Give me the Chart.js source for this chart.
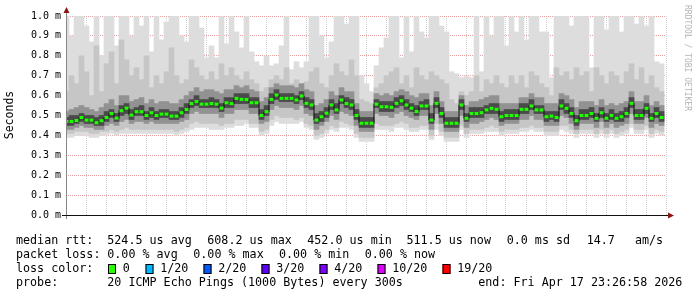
<!DOCTYPE html>
<html>
<head>
<meta charset="utf-8">
<script src="https://cdn.jsdelivr.net/npm/chart.js@4.4.1/dist/chart.umd.min.js"></script>
<style>
body { margin: 0; background: #fff; }
</style>
</head>
<body>
<canvas id="smoke" width="697" height="297"></canvas>
<script>
// time in hours from Thu 00:00, one column every 15 min
const startHour = 17.5;
const stepHour = 0.25;

// median rtt (ms)
const median = [
  0.47,0.47,0.475,0.49,0.477,0.477,0.464,0.474,0.49,0.51,
  0.487,0.524,0.537,0.502,0.519,0.519,0.50,0.514,0.50,0.507,
  0.507,0.497,0.497,0.514,0.53,0.56,0.57,0.557,0.557,0.56,
  0.557,0.537,0.564,0.56,0.586,0.581,0.58,0.564,0.564,0.50,
  0.519,0.581,0.603,0.586,0.586,0.586,0.578,0.598,0.561,0.553,
  0.477,0.494,0.512,0.553,0.528,0.578,0.56,0.553,0.50,0.461,
  0.461,0.461,0.557,0.544,0.544,0.541,0.561,0.574,0.553,0.537,
  0.52,0.548,0.548,0.477,0.561,0.51,0.461,0.461,0.461,0.553,
  0.486,0.51,0.51,0.514,0.528,0.536,0.531,0.494,0.50,0.50,
  0.50,0.531,0.531,0.548,0.528,0.528,0.494,0.497,0.49,0.548,
  0.536,0.51,0.474,0.50,0.50,0.51,0.486,0.514,0.486,0.50,
  0.486,0.494,0.51,0.561,0.50,0.50,0.536,0.486,0.51,0.49
];

// smoke: slowest ping
const smokeMax = [
  1.05,0.90,1.05,1.05,0.95,0.87,1.05,0.80,1.05,1.05,
  0.85,1.05,1.05,0.90,1.05,0.95,1.05,0.82,1.05,0.88,
  0.97,1.05,1.05,0.90,0.87,1.05,1.05,0.94,0.79,0.85,
  0.79,1.05,0.86,1.05,0.92,0.84,1.05,0.82,0.77,0.75,
  0.80,0.75,0.76,0.85,1.05,0.73,0.77,0.74,0.77,1.05,
  1.05,0.90,0.79,0.87,1.05,1.05,0.96,1.05,1.05,0.70,
  0.66,0.62,0.75,0.84,0.89,1.05,1.05,0.79,1.05,0.82,
  1.05,0.92,0.89,1.05,1.05,0.95,0.92,0.72,0.71,0.69,
  0.70,0.69,1.05,0.72,1.05,0.90,1.05,1.05,0.85,1.05,
  0.92,1.05,0.88,1.05,1.05,0.92,0.92,0.69,1.05,1.05,
  1.05,0.95,1.05,1.05,1.05,0.74,1.05,1.05,0.93,1.05,
  1.05,0.92,1.05,1.05,0.96,1.05,0.95,1.05,0.77,0.76
];

// smoke: upper pings
const smokeHigh = [
  0.62,0.70,0.66,0.80,0.72,0.60,0.85,0.62,0.76,0.82,
  0.66,0.88,0.78,0.70,0.74,0.68,0.80,0.64,0.70,0.66,
  0.72,0.84,0.70,0.66,0.68,0.78,0.74,0.70,0.68,0.72,
  0.68,0.76,0.70,0.74,0.70,0.68,0.72,0.68,0.66,0.62,
  0.64,0.68,0.70,0.68,0.74,0.66,0.68,0.66,0.67,0.72,
  0.74,0.66,0.64,0.70,0.76,0.72,0.70,0.78,0.70,0.58,
  0.57,0.56,0.64,0.66,0.70,0.72,0.74,0.66,0.70,0.64,
  0.74,0.70,0.68,0.72,0.70,0.68,0.66,0.58,0.56,0.62,
  0.60,0.62,0.70,0.62,0.68,0.66,0.70,0.66,0.64,0.70,
  0.66,0.70,0.64,0.72,0.70,0.66,0.64,0.60,0.74,0.70,
  0.72,0.68,0.74,0.70,0.72,0.62,0.74,0.70,0.66,0.72,
  0.70,0.66,0.72,0.76,0.68,0.74,0.66,0.70,0.64,0.62
];

// smoke: pings above the median
const smokeMidHi = [
  0.52,0.53,0.54,0.55,0.54,0.53,0.52,0.54,0.56,0.58,
  0.55,0.60,0.60,0.57,0.58,0.59,0.56,0.58,0.56,0.57,
  0.57,0.56,0.56,0.58,0.60,0.62,0.64,0.62,0.63,0.63,
  0.62,0.61,0.63,0.63,0.65,0.64,0.65,0.63,0.62,0.57,
  0.59,0.64,0.66,0.65,0.65,0.65,0.64,0.66,0.63,0.62,
  0.55,0.56,0.58,0.62,0.60,0.64,0.62,0.62,0.56,0.52,
  0.52,0.52,0.61,0.60,0.61,0.60,0.62,0.63,0.62,0.60,
  0.59,0.61,0.61,0.55,0.62,0.57,0.52,0.52,0.52,0.60,
  0.55,0.57,0.57,0.58,0.59,0.60,0.60,0.56,0.56,0.56,
  0.56,0.59,0.59,0.61,0.59,0.59,0.56,0.56,0.56,0.61,
  0.60,0.58,0.54,0.57,0.57,0.57,0.55,0.58,0.55,0.56,
  0.55,0.56,0.57,0.62,0.57,0.57,0.60,0.55,0.57,0.55
];

// smoke: pings closest above the median
const smokeCoreHi = [
  0.49,0.50,0.50,0.51,0.50,0.50,0.49,0.50,0.52,0.53,
  0.51,0.55,0.56,0.53,0.54,0.55,0.52,0.54,0.52,0.53,
  0.53,0.52,0.52,0.54,0.56,0.58,0.60,0.58,0.58,0.59,
  0.58,0.56,0.59,0.59,0.61,0.61,0.61,0.59,0.59,0.53,
  0.55,0.61,0.63,0.61,0.61,0.61,0.60,0.62,0.59,0.58,
  0.51,0.52,0.54,0.58,0.56,0.60,0.59,0.58,0.53,0.49,
  0.49,0.49,0.58,0.57,0.57,0.57,0.59,0.60,0.58,0.56,
  0.55,0.57,0.58,0.51,0.59,0.54,0.49,0.49,0.49,0.58,
  0.51,0.54,0.54,0.54,0.55,0.56,0.56,0.52,0.53,0.53,
  0.53,0.56,0.56,0.58,0.55,0.55,0.52,0.52,0.52,0.58,
  0.56,0.54,0.50,0.53,0.53,0.54,0.51,0.54,0.51,0.53,
  0.51,0.52,0.54,0.59,0.53,0.53,0.56,0.51,0.54,0.52
];

// smoke: pings closest below the median
const smokeCoreLo = [
  0.45,0.45,0.46,0.47,0.46,0.46,0.45,0.45,0.47,0.49,
  0.47,0.50,0.51,0.48,0.50,0.50,0.48,0.49,0.48,0.49,
  0.49,0.48,0.48,0.49,0.51,0.54,0.55,0.54,0.54,0.54,
  0.54,0.52,0.54,0.54,0.56,0.56,0.56,0.54,0.54,0.48,
  0.50,0.56,0.58,0.57,0.57,0.57,0.56,0.58,0.54,0.53,
  0.46,0.47,0.49,0.53,0.51,0.56,0.54,0.53,0.48,0.44,
  0.44,0.44,0.54,0.52,0.52,0.52,0.54,0.55,0.53,0.52,
  0.50,0.53,0.53,0.46,0.54,0.49,0.44,0.44,0.44,0.53,
  0.47,0.49,0.49,0.49,0.51,0.51,0.51,0.47,0.48,0.48,
  0.48,0.51,0.51,0.53,0.51,0.51,0.47,0.48,0.47,0.53,
  0.51,0.49,0.45,0.48,0.48,0.49,0.47,0.49,0.47,0.48,
  0.47,0.47,0.49,0.54,0.48,0.48,0.51,0.47,0.49,0.47
];

// smoke: pings below the median
const smokeMidLo = [
  0.43,0.43,0.44,0.45,0.44,0.44,0.43,0.43,0.45,0.46,
  0.45,0.47,0.48,0.46,0.47,0.47,0.46,0.47,0.46,0.46,
  0.46,0.46,0.46,0.47,0.48,0.51,0.52,0.51,0.51,0.51,
  0.51,0.49,0.51,0.51,0.53,0.53,0.53,0.51,0.51,0.46,
  0.47,0.53,0.55,0.54,0.54,0.54,0.53,0.55,0.51,0.50,
  0.43,0.45,0.47,0.50,0.48,0.52,0.51,0.50,0.45,0.42,
  0.42,0.42,0.51,0.50,0.50,0.49,0.51,0.52,0.50,0.49,
  0.48,0.50,0.50,0.43,0.51,0.46,0.42,0.42,0.42,0.50,
  0.44,0.46,0.46,0.47,0.48,0.49,0.48,0.45,0.46,0.46,
  0.46,0.48,0.48,0.50,0.48,0.48,0.45,0.45,0.45,0.50,
  0.49,0.46,0.43,0.46,0.46,0.46,0.44,0.47,0.44,0.46,
  0.44,0.45,0.46,0.51,0.46,0.46,0.49,0.44,0.46,0.45
];

// smoke: lower pings
const smokeLow = [
  0.41,0.41,0.42,0.42,0.42,0.41,0.41,0.42,0.42,0.43,
  0.42,0.43,0.44,0.43,0.43,0.43,0.43,0.43,0.43,0.43,
  0.43,0.43,0.42,0.43,0.44,0.46,0.47,0.46,0.46,0.46,
  0.46,0.45,0.46,0.46,0.48,0.48,0.48,0.46,0.46,0.42,
  0.43,0.48,0.50,0.49,0.49,0.49,0.48,0.49,0.46,0.45,
  0.40,0.41,0.43,0.45,0.44,0.47,0.46,0.45,0.41,0.39,
  0.39,0.39,0.46,0.45,0.45,0.45,0.46,0.47,0.46,0.44,
  0.44,0.45,0.45,0.40,0.46,0.42,0.39,0.39,0.39,0.45,
  0.41,0.43,0.43,0.43,0.44,0.45,0.44,0.42,0.43,0.43,
  0.43,0.44,0.44,0.45,0.44,0.44,0.42,0.42,0.42,0.45,
  0.45,0.43,0.41,0.43,0.43,0.43,0.41,0.43,0.41,0.43,
  0.41,0.42,0.43,0.46,0.43,0.43,0.45,0.41,0.43,0.42
];

// smoke: fastest ping
const smokeMin = [
  0.39,0.39,0.40,0.40,0.40,0.39,0.39,0.40,0.40,0.41,
  0.40,0.41,0.41,0.41,0.41,0.41,0.41,0.41,0.41,0.41,
  0.41,0.41,0.40,0.41,0.42,0.43,0.44,0.44,0.44,0.43,
  0.43,0.43,0.44,0.44,0.45,0.45,0.46,0.44,0.44,0.40,
  0.41,0.45,0.47,0.46,0.46,0.46,0.46,0.47,0.44,0.43,
  0.38,0.39,0.41,0.43,0.42,0.44,0.44,0.43,0.39,0.37,
  0.37,0.37,0.43,0.43,0.43,0.42,0.44,0.44,0.43,0.42,
  0.42,0.43,0.43,0.38,0.43,0.40,0.37,0.37,0.37,0.43,
  0.39,0.41,0.41,0.41,0.42,0.42,0.42,0.40,0.41,0.41,
  0.41,0.42,0.42,0.43,0.42,0.42,0.40,0.40,0.40,0.43,
  0.42,0.41,0.39,0.41,0.41,0.41,0.39,0.41,0.39,0.41,
  0.39,0.40,0.41,0.44,0.41,0.41,0.43,0.39,0.41,0.40
];

// axis labels
const tickHours = [18, 24, 30, 36, 42];
const tickLabels = ['Thu 18:00', 'Fri 00:00', 'Fri 06:00', 'Fri 12:00', 'Fri 18:00'];

// legend
const lossLevels = ['0', '1/20', '2/20', '3/20', '4/20', '10/20', '19/20'];
const lossColors = ['#26ff00', '#00b8ff', '#0059ff', '#5e00ff', '#7e00ff', '#dd00ff', '#ff0000'];
const rttLine = ['median rtt:', '524.5 us avg', '608.2 us max', '452.0 us min', '511.5 us now', '0.0 ms sd', '14.7', 'am/s'];
const lossLine = ['packet loss:', '0.00 % avg', '0.00 % max', '0.00 % min', '0.00 % now'];
const probeLine = ['probe:', '20 ICMP Echo Pings (1000 Bytes) every 300s', 'end: Fri Apr 17 23:26:58 2026'];

const hours = median.map((v, i) => startHour + i * stepHour);

function band(lo, hi) {
  return hours.map((h, i) => ({ x: h, y: [lo[i], hi[i]] }));
}
function smokeSet(lo, hi, color, order) {
  return {
    type: 'bar',
    data: band(lo, hi),
    backgroundColor: color,
    borderWidth: 0,
    grouped: false,
    barPercentage: 1,
    categoryPercentage: 1,
    clip: 0,
    order: order
  };
}

const MONO = '"DejaVu Sans Mono", monospace';

// text, arrows and legend drawn around the plot
const decor = {
  id: 'decor',
  afterDraw(chart) {
    const c = chart.ctx;
    const a = chart.chartArea;
    c.save();

    // axes
    c.lineWidth = 1;
    c.strokeStyle = '#888';
    c.beginPath();
    c.moveTo(a.left + 0.5, a.bottom + 4);
    c.lineTo(a.left + 0.5, a.top - 4);
    c.stroke();
    c.strokeStyle = '#111';
    c.beginPath();
    c.moveTo(a.left - 4, a.bottom + 0.5);
    c.lineTo(a.right + 3, a.bottom + 0.5);
    c.stroke();

    c.fillStyle = '#8b1414';
    c.beginPath();
    c.moveTo(a.right + 2, a.bottom - 2.5);
    c.lineTo(a.right + 8, a.bottom + 0.5);
    c.lineTo(a.right + 2, a.bottom + 3.5);
    c.fill();
    c.beginPath();
    c.moveTo(a.left - 2.5, a.top - 3);
    c.lineTo(a.left + 0.5, a.top - 9);
    c.lineTo(a.left + 3.5, a.top - 3);
    c.fill();

    // vertical titles
    c.fillStyle = '#000';
    c.font = '11.5px ' + MONO;
    c.textAlign = 'center';
    c.textBaseline = 'middle';
    c.save();
    c.translate(10, 115);
    c.rotate(-Math.PI / 2);
    c.fillText('Seconds', 0, 0);
    c.restore();

    c.fillStyle = '#b4b4b4';
    c.font = '8px ' + MONO;
    c.textAlign = 'left';
    c.save();
    c.translate(687, 5);
    c.rotate(Math.PI / 2);
    c.fillText('RRDTOOL / TOBI OETIKER', 0, 0);
    c.restore();

    // legend lines
    c.fillStyle = '#000';
    c.font = '11.7px ' + MONO;
    c.textAlign = 'left';
    const rttX = [16, 107.3, 207.3, 307.3, 406.5, 506.7, 586.7, 635];
    rttLine.forEach((t, i) => c.fillText(t, rttX[i], 241));
    const lossX = [16, 107.3, 193.3, 279, 364.7];
    lossLine.forEach((t, i) => c.fillText(t, lossX[i], 255));
    c.fillText('loss color:', 16, 269);
    const boxX = [108, 145.5, 203.5, 261.5, 319.5, 377.5, 442.5];
    lossLevels.forEach((t, i) => {
      c.fillStyle = lossColors[i];
      c.fillRect(boxX[i], 264, 8, 10);
      c.strokeStyle = '#000';
      c.strokeRect(boxX[i] + 0.5, 264.5, 7, 9);
      c.fillStyle = '#000';
      c.fillText(t, boxX[i] + 14.7, 269);
    });
    const probeX = [16, 107.3, 478.3];
    probeLine.forEach((t, i) => c.fillText(t, probeX[i], 283));

    c.restore();
  }
};

const ctx = document.getElementById('smoke');

const chart = new Chart(ctx, {
  type: 'bar',
  data: {
    datasets: [
      {
        type: 'line',
        data: hours.map((h, i) => ({ x: h, y: median[i] })),
        showLine: false,
        pointStyle: 'line',
        pointRadius: 2,
        pointBorderWidth: 3,
        pointBorderColor: '#20ff00',
        order: 0
      },
      {
        type: 'line',
        data: hours.map((h, i) => ({ x: h, y: median[i] })),
        stepped: 'middle',
        borderColor: '#111',
        borderWidth: 1,
        pointRadius: 0,
        order: 1
      },
      smokeSet(smokeCoreLo, smokeCoreHi, '#4a4a4a', 2),
      smokeSet(smokeMidLo, smokeMidHi, '#929292', 3),
      smokeSet(smokeLow, smokeHigh, '#c6c6c6', 4),
      smokeSet(smokeMin, smokeMax, '#dddddd', 5)
    ]
  },
  options: {
    responsive: false,
    animation: false,
    events: [],
    layout: { padding: { left: 0, right: 31, top: 16, bottom: 0 } },
    plugins: { legend: { display: false }, tooltip: { enabled: false } },
    scales: {
      x: {
        type: 'linear',
        min: 17.475,
        max: 47.475,
        offset: false,
        z: 1,
        afterFit: s => { s.height = 82; },
        border: { display: false, dash: [1, 1] },
        grid: {
          offset: false,
          drawTicks: false,
          color: c => (tickHours.includes(c.tick.value) ? '#e8a0a0' : '#d0d0d0')
        },
        ticks: {
          stepSize: 1,
          includeBounds: false,
          autoSkip: false,
          maxRotation: 0,
          padding: 3,
          color: '#000',
          font: { family: MONO, size: 10 },
          callback: v => {
            const k = tickHours.indexOf(v);
            return k >= 0 ? tickLabels[k] : '';
          }
        }
      },
      y: {
        min: 0,
        max: 1,
        z: 1,
        afterFit: s => { s.width = 66; },
        border: { display: false, dash: [1, 1] },
        grid: { drawTicks: false, color: '#e8a0a0' },
        ticks: {
          stepSize: 0.1,
          padding: 5,
          color: '#000',
          font: { family: MONO, size: 10 },
          callback: v => v.toFixed(1) + ' m'
        }
      }
    }
  },
  plugins: [decor]
});
</script>
